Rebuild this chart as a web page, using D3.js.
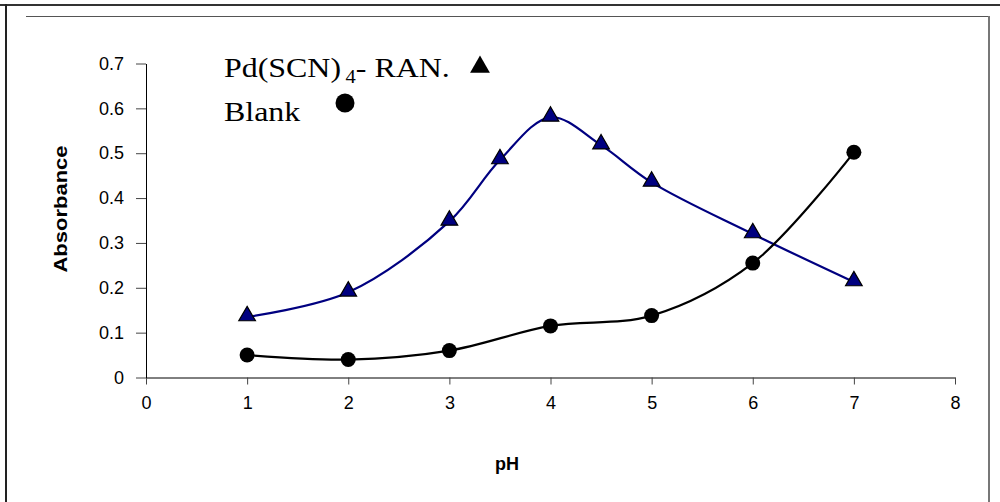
<!DOCTYPE html>
<html>
<head>
<meta charset="utf-8">
<script src="https://cdn.jsdelivr.net/npm/d3@7"></script>
<style>
  body { margin: 0; background: #fff; }
  svg { display: block; }
</style>
</head>
<body>
<div id="chart"></div>
<script>
// data
var phComplex = [1, 2, 3, 3.5, 4, 4.5, 5, 6, 7];
var absComplex = [0.135, 0.19, 0.348, 0.485, 0.58, 0.518, 0.435, 0.32, 0.213];
var phBlank = [1, 2, 3, 4, 5, 6, 7];
var absBlank = [0.05, 0.04, 0.06, 0.115, 0.138, 0.255, 0.502];
var xTicks = [0, 1, 2, 3, 4, 5, 6, 7, 8];
var yTicks = [0, 0.1, 0.2, 0.3, 0.4, 0.5, 0.6, 0.7];

var svgWidth = 1000;
var svgHeight = 502;
var stretch = 1.14; // the picture is a bit wider than tall

var svg = d3.select("#chart").append("svg")
  .attr("width", svgWidth)
  .attr("height", svgHeight);

// frame lines
svg.append("line").attr("x1", 0).attr("x2", 1000).attr("y1", 5).attr("y2", 5)
  .attr("stroke", "#333").attr("stroke-width", 2);
svg.append("line").attr("x1", 6).attr("x2", 6).attr("y1", 4).attr("y2", 502)
  .attr("stroke", "#222").attr("stroke-width", 2);
svg.append("line").attr("x1", 26).attr("x2", 990).attr("y1", 16.5).attr("y2", 16.5)
  .attr("stroke", "#555").attr("stroke-width", 1);
svg.append("line").attr("x1", 989).attr("x2", 989).attr("y1", 16).attr("y2", 502)
  .attr("stroke", "#777").attr("stroke-width", 2);

var x = d3.scaleLinear().domain([0, 8]).range([146, 955]);
var y = d3.scaleLinear().domain([0, 0.7]).range([377.5, 63.5]);

// axes
var xAxis = svg.append("g").attr("transform", "translate(0," + y(0) + ")")
  .call(d3.axisBottom(x).tickValues(xTicks).tickSize(7).tickSizeOuter(0).tickFormat(d3.format("d")));
var yAxis = svg.append("g").attr("transform", "translate(" + x(0) + ",0)")
  .call(d3.axisLeft(y).tickValues(yTicks).tickSize(10).tickSizeOuter(0)
    .tickFormat(function(d){ return d === 0 ? "0" : d3.format(".1f")(d); }));

[xAxis, yAxis].forEach(function(a){
  a.attr("font-size", null);
  a.select(".domain").attr("stroke", "#000");
  a.selectAll(".tick line").attr("stroke", "#444");
  a.selectAll(".tick text")
    .attr("fill", "#000")
    .style("font-family", "'Liberation Sans', Arial, sans-serif")
    .style("font-size", "18px");
});
xAxis.selectAll(".tick text").attr("y", 19);
yAxis.selectAll(".tick text").attr("x", -22);

// axis titles
svg.append("text")
  .attr("x", 507).attr("y", 470)
  .attr("text-anchor", "middle")
  .style("font-family", "'Liberation Sans', Arial, sans-serif")
  .style("font-weight", "bold").style("font-size", "18px")
  .text("pH");

svg.append("text")
  .attr("transform", "translate(67,209) rotate(-90)")
  .attr("text-anchor", "middle")
  .style("font-family", "'Liberation Sans', Arial, sans-serif")
  .style("font-weight", "bold").style("font-size", "18px")
  .attr("textLength", 127).attr("lengthAdjust", "spacingAndGlyphs")
  .text("Absorbance");

// smoothed lines
var line = d3.line()
  .x(function(d){ return x(d[0]); })
  .y(function(d){ return y(d[1]); })
  .curve(d3.curveCatmullRom.alpha(0.5));

var complexPts = d3.zip(phComplex, absComplex);
var blankPts = d3.zip(phBlank, absBlank);

svg.append("path").datum(complexPts)
  .attr("d", line).attr("fill", "none")
  .attr("stroke", "#000080").attr("stroke-width", 2.2);
svg.append("path").datum(blankPts)
  .attr("d", line).attr("fill", "none")
  .attr("stroke", "#000").attr("stroke-width", 2.2);

// markers
var tri = d3.symbol().type(d3.symbolTriangle).size(120);
svg.selectAll(".tri").data(complexPts).enter()
  .append("path").attr("class", "tri")
  .attr("d", tri)
  .attr("transform", function(d){ return "translate(" + x(d[0]) + "," + (y(d[1]) - 1) + ")"; })
  .attr("fill", "#000080").attr("stroke", "#000").attr("stroke-width", 1.2);

svg.selectAll(".dot").data(blankPts).enter()
  .append("circle").attr("class", "dot")
  .attr("cx", function(d){ return x(d[0]); })
  .attr("cy", function(d){ return y(d[1]); })
  .attr("r", 7.5)
  .attr("fill", "#000");

// legend
var legend = svg.append("g")
  .style("font-family", "'Liberation Serif', 'Times New Roman', serif");

var t1 = legend.append("text")
  .attr("transform", "translate(224,77) scale(" + stretch + ",1)")
  .style("font-size", "28px");
t1.append("tspan").text("Pd(SCN)");
t1.append("tspan").attr("dx", 4).attr("dy", 6).style("font-size", "18px").text("4");
t1.append("tspan").attr("dy", -6).text("- RAN.");

legend.append("text")
  .attr("transform", "translate(224,121) scale(" + stretch + ",1)")
  .style("font-size", "28px")
  .text("Blank");

legend.append("path")
  .attr("d", d3.symbol().type(d3.symbolTriangle).size(170))
  .attr("transform", "translate(480,67)")
  .attr("fill", "#000");
legend.append("circle")
  .attr("cx", 345).attr("cy", 103).attr("r", 9.5)
  .attr("fill", "#000");
</script>
</body>
</html>
